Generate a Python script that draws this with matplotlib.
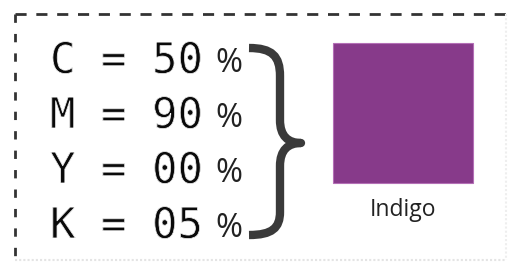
import matplotlib.pyplot as plt
import matplotlib.patheffects as pe
from matplotlib.path import Path
from matplotlib.patches import PathPatch, Rectangle

channels = ['C', 'M', 'Y', 'K']
values = [50, 90, 0, 5]
swatch_name = 'Indigo'
swatch_color = '#873a8a'


def draw_card():
    fig = plt.figure(figsize=(5.10, 2.64), dpi=100)
    ax = fig.add_axes([0, 0, 1, 1])
    ax.set_xlim(0, 510)
    ax.set_ylim(264, 0)
    ax.axis('off')

    # dashed frame (top + left), faint edges right/bottom
    ax.plot([15, 506], [14, 14], color='#333333', lw=2, ls=(0, (4, 3.5)))
    ax.plot([15, 15], [14, 262], color='#333333', lw=2, ls=(0, (3, 4)))
    ax.plot([15, 506], [260, 260], color='#e4e4e4', lw=1.5, ls=(0, (1, 1)))
    ax.plot([506, 506], [14, 260], color='#eeeeee', lw=1.5, ls=(0, (1, 1)))

    # thin the mono glyphs a bit
    thin = [pe.Normal(), pe.Stroke(linewidth=0.55, foreground='white')]

    # CMYK lines
    for i, (ch, v) in enumerate(zip(channels, values)):
        base = 73 + 55 * i
        ax.text(50, base, '%s = %02d' % (ch, v), fontsize=30.5,
                family='DejaVu Sans Mono', color='#0a0a0a',
                ha='left', va='baseline', path_effects=thin)
        ax.text(215, base - 1, '%', fontsize=23.5, family='Open Sans',
                color='#222222', ha='left', va='baseline')

    # curly brace
    verts = [(249, 48), (272, 48), (280, 56), (280, 76),
             (280, 120),
             (280, 136), (288, 143), (301, 143),
             (288, 143), (280, 150), (280, 166),
             (280, 212),
             (280, 228), (272, 235), (249, 235)]
    codes = [Path.MOVETO, Path.CURVE4, Path.CURVE4, Path.CURVE4,
             Path.LINETO,
             Path.CURVE4, Path.CURVE4, Path.CURVE4,
             Path.CURVE4, Path.CURVE4, Path.CURVE4,
             Path.LINETO,
             Path.CURVE4, Path.CURVE4, Path.CURVE4]
    ax.add_patch(PathPatch(Path(verts, codes), facecolor='none',
                           edgecolor='#3a3a3a', lw=6, capstyle='butt',
                           joinstyle='round'))

    # swatch
    ax.add_patch(Rectangle((333, 43), 140, 140, facecolor=swatch_color,
                           edgecolor='#b46fb6', lw=0.8))
    ax.text(403, 216, swatch_name, fontsize=16.5, family='Open Sans',
            color='#222222', ha='center', va='baseline')

    fig.savefig('out.png', dpi=100, facecolor='white')
    plt.close(fig)


if __name__ == '__main__':
    draw_card()
